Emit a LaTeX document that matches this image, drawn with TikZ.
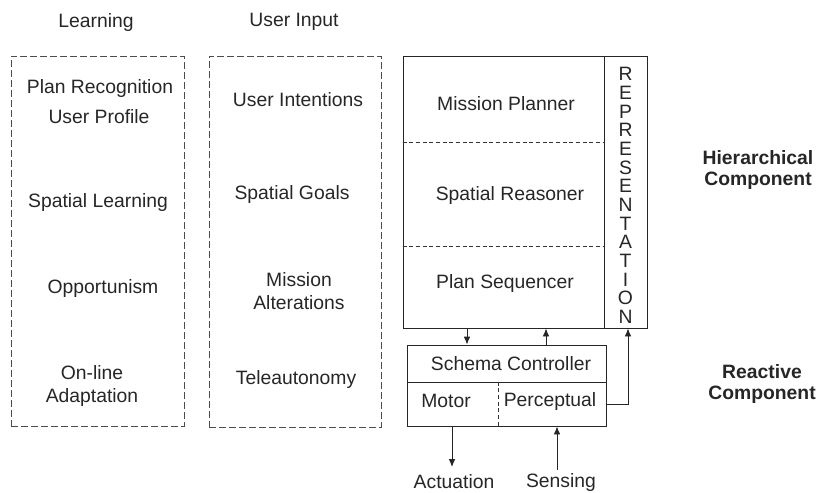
\documentclass[tikz,border=0pt]{standalone}
\usepackage{fontspec}
\setmainfont{Liberation Sans}
\usetikzlibrary{arrows.meta}
\begin{document}
\begin{tikzpicture}[x=0.75pt,y=-0.75pt,
  txt/.style={font=\fontsize{14.5}{17}\selectfont, inner sep=0pt, align=center, text=black!85},
  btxt/.style={font=\fontsize{14.5}{16}\selectfont\bfseries, inner sep=0pt, align=center, text=black!85},
  dbox/.style={draw=black!70, dash pattern=on 5pt off 2.5pt, line width=0.7pt, inner sep=0pt},
  sbox/.style={draw=black!85, line width=0.7pt, inner sep=0pt},
  thin dash/.style={draw=black!80, dash pattern=on 3pt off 2pt, line width=0.6pt},
  arr/.style={draw=black!85, line width=0.7pt, -{Latex[length=6pt,width=5pt]}}]
\useasboundingbox (0,0) rectangle (819,493);

% headings
\node[txt] (hlearn) at (96,22) {Learning};
\node[txt] (huser) at (294,22) {User Input};

% dashed boxes
\node[dbox, minimum width=129.75pt, minimum height=277.5pt] (learnbox) at (97.5,241) {};
\node[dbox, minimum width=129pt, minimum height=278.25pt] (userbox) at (295,241.5) {};

% learning items
\node[txt] (planrec) at (100,89) {Plan Recognition};
\node[txt] (userprof) at (99,117) {User Profile};
\node[txt] (spatlearn) at (98,202) {Spatial Learning};
\node[txt] (opport) at (103,288) {Opportunism};
\node[txt] (online) at (92,386) {On-line\\Adaptation};

% user input items
\node[txt] (userint) at (298,100) {User Intentions};
\node[txt] (spatgoal) at (292,194) {Spatial Goals};
\node[txt] (missalt) at (299,291) {Mission\\Alterations};
\node[txt] (teleaut) at (296,379) {Teleautonomy};

% hierarchical component
\node[sbox, minimum width=150.75pt, minimum height=204pt] (hier) at (503.5,192) {};
\node[sbox, minimum width=32.25pt, minimum height=204pt] (repr) at (625.5,192) {};
\coordinate (d1) at (0,142);
\coordinate (d2) at (0,246);
\draw[thin dash] (hier.west |- d1) -- (hier.east |- d1);
\draw[thin dash] (hier.west |- d2) -- (hier.east |- d2);
\node[txt] (mplan) at (506,104) {Mission Planner};
\node[txt] (sreas) at (510,195) {Spatial Reasoner};
\node[txt] (pseq) at (505,283) {Plan Sequencer};
\node[font=\fontsize{14.5}{14}\selectfont, inner sep=0pt, align=center, text=black!85] (reprtxt) at (625.5,195.5)
  {R\\E\\P\\R\\E\\S\\E\\N\\T\\A\\T\\I\\O\\N};

% reactive component
\node[sbox, minimum width=149.25pt, minimum height=27.75pt] (schema) at (506.5,363.5) {};
\node[sbox, minimum width=149.25pt, minimum height=33pt] (lower) at (506.5,404) {};
\coordinate (dv) at (498,0);
\draw[thin dash] (lower.north -| dv) -- (lower.south -| dv);
\node[txt] (schtxt) at (511,364) {Schema Controller};
\node[txt] (motor) at (446,401) {Motor};
\node[txt] (percep) at (550,401) {Perceptual};

% arrows between components
\coordinate (xa) at (467,0);
\coordinate (xb) at (546,0);
\coordinate (xr) at (628,0);
\coordinate (xm) at (452,0);
\coordinate (xs) at (557,0);
\draw[arr] (hier.south -| xa) -- (schema.north -| xa);
\draw[arr] (schema.north -| xb) -- (hier.south -| xb);
\draw[arr] (lower.east) -| (repr.south -| xr);

% actuation and sensing
\node[txt] (act) at (454,482) {Actuation};
\node[txt] (sens) at (561,482) {Sensing};
\coordinate (actend) at (452,467);
\coordinate (sensstart) at (557,470);
\draw[arr] (lower.south -| xm) -- (actend);
\draw[arr] (sensstart) -- (lower.south -| xs);

% side labels
\node[btxt] (hierlbl) at (758,170) {Hierarchical\\Component};
\node[btxt] (reactlbl) at (762,384) {Reactive\\Component};
\end{tikzpicture}
\end{document}
